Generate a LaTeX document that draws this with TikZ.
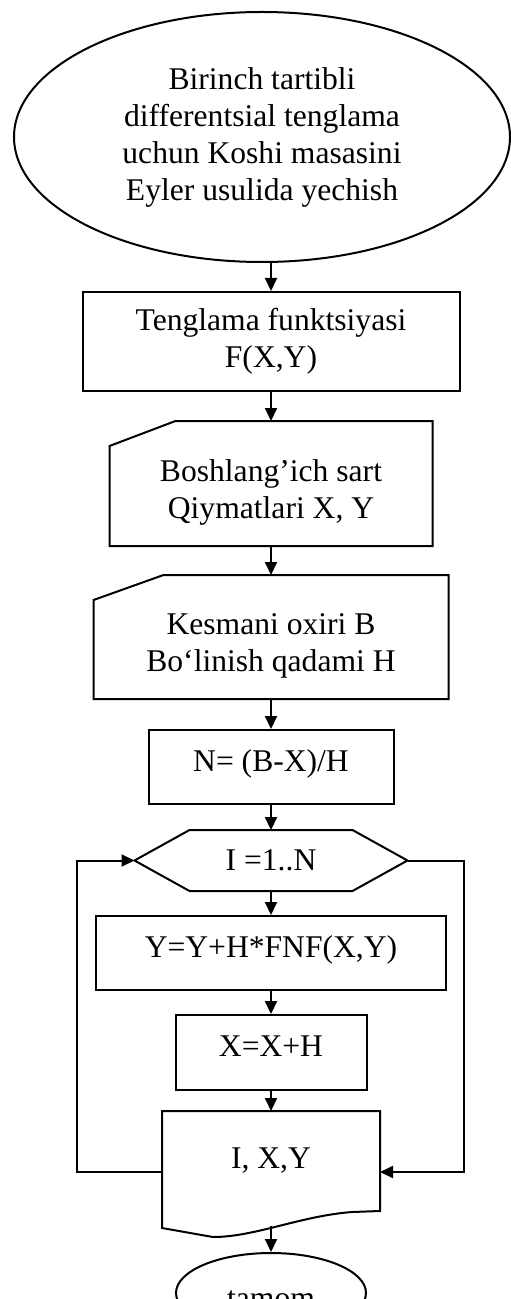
\documentclass[tikz,border=0pt]{standalone}
\usepackage{fontspec}
\setmainfont{Liberation Serif}
\usetikzlibrary{positioning,calc,shapes.geometric,arrows.meta}

\tikzset{
  line/.style={line width=1pt},
  arr/.style={line, -{Triangle[length=6.5pt,width=6pt]}},
  startstop/.style={ellipse, draw, line, inner sep=0pt, align=center},
  process/.style={rectangle, draw, line, align=center},
  oneline/.style={rectangle, draw, line, text height=10.5pt, text depth=6.3pt},
  inbox/.style={rectangle, outer sep=0pt, align=center, text height=38.3pt, text depth=3.4pt},
  loopbox/.style={rectangle, outer sep=0pt},
}

\begin{document}
\begin{tikzpicture}[font=\fontsize{15.8pt}{18.5pt}\selectfont]
	\useasboundingbox (0,0) rectangle (255pt,-649.5pt);
	
	\node[startstop, minimum width=248pt, minimum height=125pt] (start) at (131pt,-68.5pt) {Birinch tartibli\\differentsial tenglama\\uchun Koshi masasini\\Eyler usulida yechish};
	
	\node[process, minimum width=188.5pt, minimum height=49.5pt, below=14pt of start, xshift=4.5pt] (fun) {Tenglama funktsiyasi\\F(X,Y)};
	\node[inbox, minimum width=161.5pt, minimum height=62.5pt, below=14.5pt of fun] (init) {Boshlang’ich sart\\Qiymatlari X, Y};
	\node[inbox, minimum width=177.5pt, minimum height=62pt, below=14.5pt of init] (range) {Kesmani oxiri B\\Bo‘linish qadami H};
	\node[oneline, minimum width=122.5pt, minimum height=37pt, below=15pt of range] (nval) {N= (B-X)/H};
	\node[loopbox, minimum width=136.5pt, minimum height=30.5pt, below=12.5pt of nval] (loop) {I =1..N};
	\node[oneline, minimum width=175pt, minimum height=37pt, below=12pt of loop] (yupd) {Y=Y+H*FNF(X,Y)};
	\node[oneline, minimum width=95.5pt, minimum height=37.5pt, below=11.5pt of yupd] (xupd) {X=X+H};
	\node[loopbox, minimum width=109pt, minimum height=50pt, below=10pt of xupd] (outp) {I, X,Y};
	\node[startstop, minimum width=95pt, minimum height=40pt, text height=15pt, text depth=0pt, below=20.5pt of outp] (fin) {tamom};
	
	% input blocks with cut corner
	\draw[line] (init.south west) -- (init.south east) -- (init.north east) -- ([xshift=33pt]init.north west) -- ([yshift=-12.5pt]init.north west) -- cycle;
	\draw[line] (range.south west) -- (range.south east) -- (range.north east) -- ([xshift=35pt]range.north west) -- ([yshift=-12.5pt]range.north west) -- cycle;
	
	% loop head
	\draw[line] (loop.west) -- ([xshift=27.5pt]loop.north west) -- ([xshift=-27.5pt]loop.north east) -- (loop.east) -- ([xshift=-27.5pt]loop.south east) -- ([xshift=27.5pt]loop.south west) -- cycle;
	
	% output block
	\draw[line] (outp.north west) -- (outp.north east) -- (outp.south east) -- ($(outp.south west)+(95pt,-0.5pt)$)
		.. controls ($(outp.south west)+(69pt,-2.5pt)$) and ($(outp.south west)+(46.5pt,-13pt)$) .. ($(outp.south west)+(25.5pt,-13pt)$)
		-- ($(outp.south west)+(0pt,-8.5pt)$) -- cycle;
	
	\draw[arr] (fun.north |- start.south) -- (fun.north);
	\draw[arr] (fun) -- (init);
	\draw[arr] (init) -- (range);
	\draw[arr] (range) -- (nval);
	\draw[arr] (nval) -- (loop);
	\draw[arr] (loop) -- (yupd);
	\draw[arr] (yupd) -- (xupd);
	\draw[arr] (xupd) -- (outp);
	\draw[arr] ([yshift=-7.5pt]outp.south) -- (fin);
	
	\draw[arr] ([yshift=-5.5pt]outp.west) -- ++(-42.5pt,0) |- (loop.west);
	\draw[arr] (loop.east) -- ++(28pt,0) |- ([yshift=-5.5pt]outp.east);
\end{tikzpicture}
\end{document}
